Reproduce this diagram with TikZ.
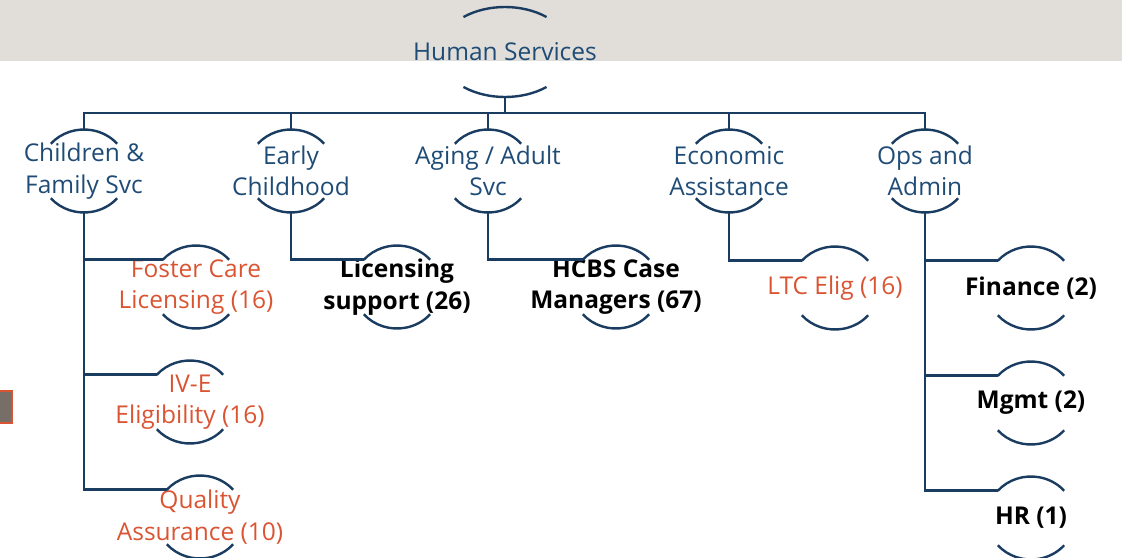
\documentclass[tikz,border=0pt]{standalone}
\usepackage{fontspec}
\setmainfont{Open Sans}
\usepackage{tikz}
\usetikzlibrary{positioning}
\definecolor{navy}{RGB}{26,60,97}
\definecolor{navytext}{RGB}{31,76,118}
\definecolor{rust}{RGB}{218,84,50}
\definecolor{band}{RGB}{225,222,217}
\definecolor{slate}{RGB}{119,111,103}
\tikzset{
  arcline/.style={draw=navy, line width=2.4pt},
  link/.style={draw=navy, line width=2.8pt},
  dept/.style={align=center, inner sep=0pt, text=navytext, font=\fontsize{24.5}{31.5}\selectfont},
  staff/.style={align=center, inner sep=0pt, text=rust, font=\fontsize{24.5}{31.5}\selectfont},
  staffbold/.style={align=center, inner sep=0pt, text=black, font=\fontsize{24.5}{31.5}\selectfont\bfseries}
}
% top and bottom arc of a node: name, x radius, y radius, angle
\newcommand{\ringarcs}[4]{%
  \draw[arcline] (#1.center) ++(180-#4:#2pt and #3pt) arc[start angle=180-#4, end angle=#4, x radius=#2pt, y radius=#3pt];
  \draw[arcline] (#1.center) ++(180+#4:#2pt and #3pt) arc[start angle=180+#4, end angle=360-#4, x radius=#2pt, y radius=#3pt];
  \path (#1.center) ++(0,#3pt) coordinate (#1-t);
  \path (#1.center) ++(0,-#3pt) coordinate (#1-b);
  \path (#1.center) ++(180-#4:#2pt and #3pt) coordinate (#1-l);
}

\begin{document}
\begin{tikzpicture}[x=1pt, y=1pt]
            \useasboundingbox (0,0) rectangle (1122,-557);
            \fill[band] (0,0) rectangle (1122,-61);
            \filldraw[fill=slate, draw=rust, line width=2pt] (-2,-391) rectangle (12,-423);

            %Nodes
            \node[dept] at (505,-52) (hs) {Human Services};
            \node[dept] at (84,-171) (cfs) {Children \&\\Family Svc};
            \node[dept] at (291,-171) (ech) {Early\\Childhood};
            \node[dept] at (488,-171) (aas) {Aging / Adult\\Svc};
            \node[dept] at (729,-171) (eca) {Economic\\Assistance};
            \node[dept] at (925,-171) (opa) {Ops and\\Admin};

            \node[staff] at (196,-287) (fcl) {Foster Care\\Licensing (16)};
            \node[staff] at (190,-402) (ive) {IV-E\\Eligibility (16)};
            \node[staff] at (200,-517) (qas) {Quality\\Assurance (10)};
            \node[staffbold] at (397,-287) (lsp) {Licensing\\support (26)};
            \node[staffbold] at (616,-287) (hcm) {HCBS Case\\Managers (67)};
            \node[staff] at (835,-288) (ltc) {LTC Elig (16)};
            \node[staffbold] at (1031,-288) (fin) {Finance (2)};
            \node[staffbold] at (1031,-403) (mgm) {Mgmt (2)};
            \node[staffbold] at (1031,-518) (hrs) {HR (1)};

            %Arcs
            \ringarcs{hs}{66}{45}{51}
            \foreach \n in {cfs, ech, aas, eca, opa, fcl, ive, qas, lsp, hcm, ltc, fin, mgm, hrs}
              {\ringarcs{\n}{44}{41.5}{41}}

            %Lines
            \coordinate (bus) at (505,-113);
            \draw[link] (hs-b) -- (bus);
            \draw[link] (cfs-t) |- (bus) -| (opa-t);
            \draw[link] (ech-t) -- (ech-t |- bus);
            \draw[link] (aas-t) -- (aas-t |- bus);
            \draw[link] (eca-t) -- (eca-t |- bus);

            \draw[link] (cfs-b) |- (qas-l);
            \draw[link] (cfs-b |- fcl-l) -- (fcl-l);
            \draw[link] (cfs-b |- ive-l) -- (ive-l);
            \draw[link] (ech-b) |- (lsp-l);
            \draw[link] (aas-b) |- (hcm-l);
            \draw[link] (eca-b) |- (ltc-l);
            \draw[link] (opa-b) |- (hrs-l);
            \draw[link] (opa-b |- fin-l) -- (fin-l);
            \draw[link] (opa-b |- mgm-l) -- (mgm-l);
        \end{tikzpicture}
\end{document}
